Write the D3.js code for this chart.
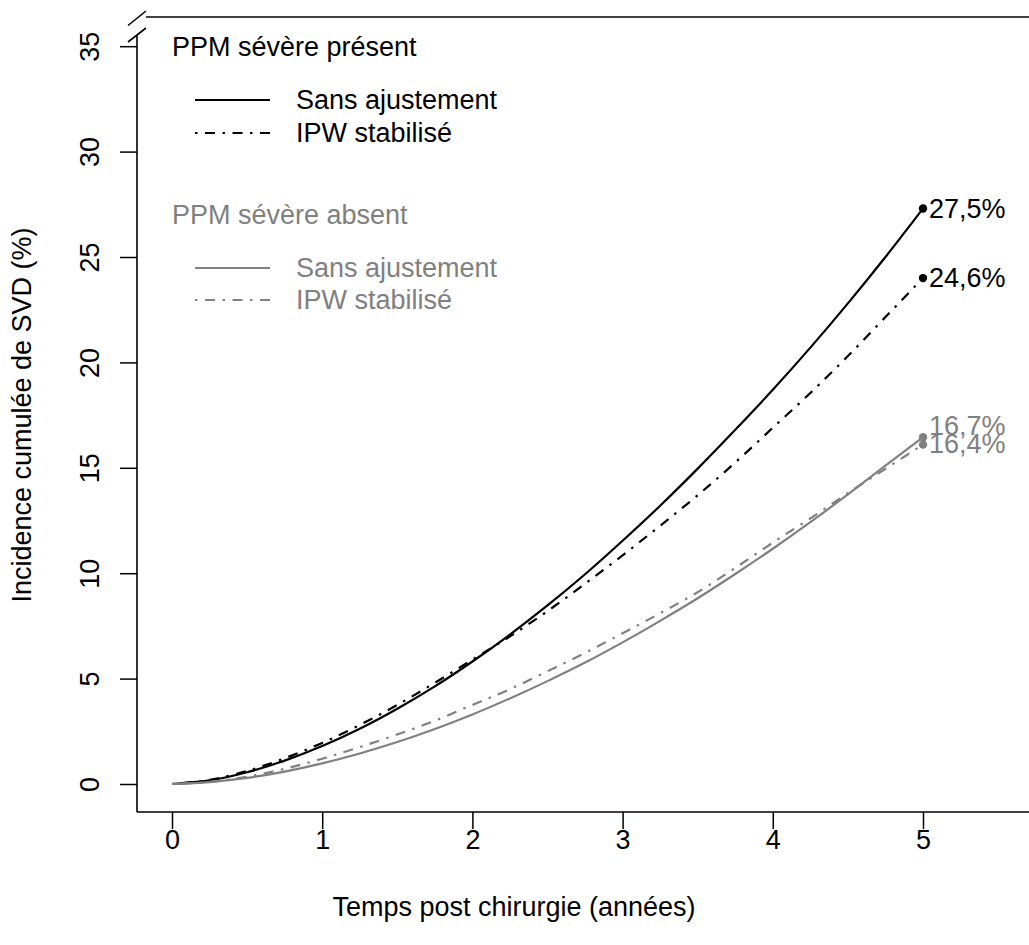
<!DOCTYPE html>
<html>
<head>
<meta charset="utf-8">
<script src="https://cdn.jsdelivr.net/npm/d3@7"></script>
<style>
  body { margin: 0; background: #fff; }
  svg text { font-family: "Liberation Sans", Arial, Helvetica, sans-serif; }
</style>
</head>
<body>
<svg id="chart" width="1029" height="945"></svg>
<script>
// ---- data ----
const years = [0, 0.25, 0.5, 0.75, 1, 1.25, 1.5, 1.75, 2, 2.25, 2.5, 2.75, 3, 3.25, 3.5, 3.75, 4, 4.25, 4.5, 4.75, 5];
const presentCrude = [0, 0.17, 0.56, 1.11, 1.80, 2.62, 3.57, 4.63, 5.81, 7.09, 8.47, 9.95, 11.54, 13.2, 14.96, 16.8, 18.7, 20.7, 22.8, 25.0, 27.3];
const presentIPW   = [0, 0.2, 0.62, 1.22, 1.95, 2.8, 3.75, 4.8, 5.9, 7.0, 8.2, 9.5, 10.85, 12.25, 13.7, 15.25, 16.9, 18.55, 20.3, 22.15, 24.0];
const absentCrude  = [0, 0.09, 0.29, 0.59, 0.98, 1.45, 1.99, 2.61, 3.30, 4.06, 4.88, 5.76, 6.72, 7.74, 8.81, 9.96, 11.16, 12.42, 13.74, 15.1, 16.45];
const absentIPW    = [0, 0.1, 0.35, 0.72, 1.2, 1.75, 2.35, 3.0, 3.75, 4.5, 5.35, 6.22, 7.15, 8.1, 9.1, 10.25, 11.45, 12.6, 13.8, 14.95, 16.1];
const endLabels    = ["27,5%", "24,6%", "16,7%", "16,4%"];
const endLabelPos  = [27.3, 24.0, 17.0, 16.15];
const xTicks = [0, 1, 2, 3, 4, 5];
const yTicks = [0, 5, 10, 15, 20, 25, 30, 35];
const groupTitles = ["PPM sévère présent", "PPM sévère absent"];
const seriesNames = ["Sans ajustement", "IPW stabilisé"];

const BLACK = "#000000", GREY = "#808080";
const FS = 27;
const DASH = "2.5,7.5,10,7.5";

const svg = d3.select("#chart");
const x = d3.scaleLinear().domain([0, 5]).range([172, 923]);
const y = d3.scaleLinear().domain([0, 35]).range([784, 46.2]);

// ---- frame ----
const frame = svg.append("g").attr("stroke", "#000").attr("stroke-width", 1.6).attr("fill", "none");
frame.append("line").attr("x1", 137).attr("x2", 1029).attr("y1", 812).attr("y2", 812);
frame.append("line").attr("x1", 146).attr("x2", 1029).attr("y1", 17).attr("y2", 17);
frame.append("line").attr("x1", 137).attr("x2", 137).attr("y1", 35).attr("y2", 812);
// axis break slashes
frame.append("line").attr("x1", 128).attr("y1", 25.5).attr("x2", 146).attr("y2", 11);
frame.append("line").attr("x1", 128).attr("y1", 42).attr("x2", 146).attr("y2", 28);

// ---- axes ----
const xAxis = svg.append("g").attr("transform", "translate(0,812)")
  .call(d3.axisBottom(x).tickValues(xTicks).tickSize(17).tickPadding(0).tickFormat(d3.format("d")));
xAxis.select(".domain").remove();
xAxis.selectAll(".tick line").attr("stroke", "#000").attr("stroke-width", 1.5);
xAxis.selectAll(".tick text").attr("y", 28).attr("dy", null)
  .attr("dominant-baseline", "central").attr("font-size", FS).attr("fill", "#000");

const yAxis = svg.append("g").attr("transform", "translate(137,0)")
  .call(d3.axisLeft(y).tickValues(yTicks).tickSize(17).tickPadding(0).tickFormat(d3.format("d")));
yAxis.select(".domain").remove();
yAxis.selectAll(".tick line").attr("stroke", "#000").attr("stroke-width", 1.5);
yAxis.selectAll(".tick text")
  .attr("transform", "rotate(-90)")
  .attr("x", 0).attr("y", -47).attr("dy", null)
  .attr("text-anchor", "middle").attr("dominant-baseline", "central")
  .attr("font-size", FS).attr("fill", "#000");

// axis titles
svg.append("text").attr("x", 514).attr("y", 907).attr("text-anchor", "middle")
  .attr("dominant-baseline", "central").attr("font-size", FS).text("Temps post chirurgie (années)");
svg.append("text").attr("transform", "translate(22,415) rotate(-90)").attr("text-anchor", "middle")
  .attr("dominant-baseline", "central").attr("font-size", FS).text("Incidence cumulée de SVD (%)");

// ---- curves ----
const line = d3.line().x(d => x(d[0])).y(d => y(d[1])).curve(d3.curveMonotoneX);
const series = [
  { vals: presentCrude, color: BLACK, dash: null },
  { vals: presentIPW, color: BLACK, dash: DASH },
  { vals: absentCrude, color: GREY, dash: null },
  { vals: absentIPW, color: GREY, dash: DASH }
];
const plotG = svg.append("g");
series.forEach(s => {
  plotG.append("path")
    .datum(years.map((t, i) => [t, s.vals[i]]))
    .attr("d", line)
    .attr("fill", "none")
    .attr("stroke", s.color)
    .attr("stroke-width", 2.2)
    .attr("stroke-dasharray", s.dash);
});

// end points
series.forEach(s => {
  plotG.append("circle")
    .attr("cx", x(years[years.length - 1]))
    .attr("cy", y(s.vals[s.vals.length - 1]))
    .attr("r", 4.2)
    .attr("fill", s.color);
});

// end labels
endLabels.forEach((lab, i) => {
  svg.append("text").attr("x", x(5) + 6).attr("y", y(endLabelPos[i]))
    .attr("dominant-baseline", "central").attr("font-size", FS)
    .attr("fill", i < 2 ? BLACK : GREY).text(lab);
});

// ---- legend ----
const legendGroups = [
  { title: groupTitles[0], color: BLACK, ty: 47, ly: [100, 133] },
  { title: groupTitles[1], color: GREY, ty: 215, ly: [268, 300] }
];
legendGroups.forEach(g => {
  svg.append("text").attr("x", 172).attr("y", g.ty).attr("dominant-baseline", "central")
    .attr("font-size", FS).attr("fill", g.color).text(g.title);
  seriesNames.forEach((nm, j) => {
    svg.append("line").attr("x1", 195).attr("x2", 270).attr("y1", g.ly[j]).attr("y2", g.ly[j])
      .attr("stroke", g.color).attr("stroke-width", 2.2)
      .attr("stroke-dasharray", j === 1 ? DASH : null);
    svg.append("text").attr("x", 296).attr("y", g.ly[j]).attr("dominant-baseline", "central")
      .attr("font-size", FS).attr("fill", g.color).text(nm);
  });
});
</script>
</body>
</html>
